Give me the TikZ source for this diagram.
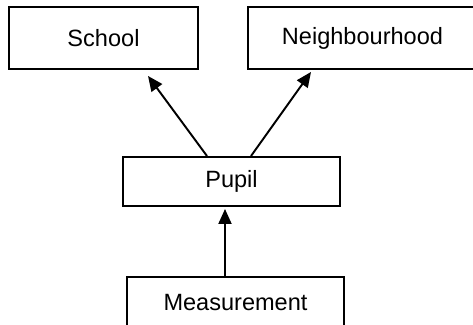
\documentclass[tikz,border=0pt]{standalone}
\usepackage{fontspec}
\setmainfont{Liberation Sans}
\usetikzlibrary{arrows.meta}
\begin{document}
\begin{tikzpicture}[
    boite/.style={draw, line width=1.1pt, inner sep=0pt, font=\fontsize{13.4}{16}\selectfont},
    fleche/.style={line width=1.1pt, -{Triangle[length=0.3cm,width=0.26cm]}}]
    \useasboundingbox (0,0) rectangle (9.46,-6.5);
    %niveaux superieurs
    \node[boite, minimum width=3.78cm, minimum height=1.24cm] (school) at (2.07,-0.76) {School};
    \node[boite, minimum width=4.58cm, minimum height=1.24cm] (neighbourhood) at (7.25,-0.76) {Neighbourhood};
    %eleve
    \node[boite, minimum width=4.34cm, minimum height=0.98cm] (pupil) at (4.63,-3.63) {Pupil};
    %mesure
    \node[boite, minimum width=4.34cm, minimum height=1.04cm] (measurement) at (4.71,-6.06) {Measurement};
    %fleches
    \draw[fleche] ([xshift=-0.49cm]pupil.north) -- ([xshift=0.89cm,yshift=-0.12cm]school.south);
    \draw[fleche] ([xshift=0.39cm]pupil.north) -- ([xshift=-1.03cm,yshift=-0.04cm]neighbourhood.south);
    \draw[fleche, shorten >=0.04cm] ([xshift=-0.21cm]measurement.north) -- ([xshift=-0.21cm]measurement.north |- pupil.south);
  \end{tikzpicture}
\end{document}
